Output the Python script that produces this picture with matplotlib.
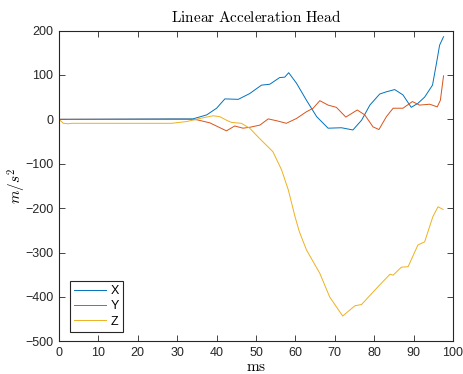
import matplotlib
matplotlib.use("Agg")
import matplotlib.pyplot as plt

plt.rcParams['font.family'] = ['Liberation Sans', 'DejaVu Sans']
plt.rcParams['mathtext.fontset'] = 'cm'

# values (ms, m/s^2)
t_x = [0, 29, 34, 37.5, 40, 42.1, 45.5, 48.4, 51.4, 53.5, 56, 57.3, 58.3, 60.3,
       62.8, 65.4, 68.3, 71.7, 74.6, 76.8, 78.9, 81.4, 83.1, 85.2, 87.3, 89.4,
       91.1, 92.8, 94.8, 95.8, 96.6, 97.6]
acc_x = [0, 1, 1, 10, 25, 46, 45, 58, 77, 79, 94, 95, 105, 81,
         43, 6, -20, -19, -24, -2, 32, 57, 62, 67, 55, 27,
         36, 50, 77, 126, 167, 186]

t_y = [0, 33, 35, 38.3, 40.4, 42.5, 44.6, 46.7, 48.4, 51, 53.1, 55.6, 57.7,
       60.3, 62.8, 64.5, 66.2, 68.3, 70.4, 72.8, 75.7, 77.6, 79.7, 81.2, 83.1,
       84.8, 87.3, 89.7, 91.5, 94.1, 96, 96.8, 97.6]
acc_y = [0, 0, -1, -8, -17, -26, -15, -20, -18, -13, 1, -4, -9,
         2, 17, 25, 42, 32, 27, 5, 21, 10, -17, -23, 6,
         25, 25, 40, 32, 34, 28, 43, 98]

t_z = [0, 1.1, 2.4, 3.2, 28.6, 32.4, 35.8, 39.1, 40.8, 42.5, 43.8, 46.3, 48.4,
       51, 54.3, 56.5, 58.2, 59.9, 61, 62.8, 66.2, 68.7, 72, 75.1, 76.8, 81.4,
       84, 84.8, 86.9, 88.6, 91.1, 92.8, 94.9, 96.2, 97.5]
acc_z = [0, -9, -10, -9, -9, -5, 2, 8, 6, -2, -7, -9, -20,
         -44, -73, -114, -159, -219, -253, -294, -347, -400, -443, -420, -417, -373,
         -349, -351, -333, -332, -283, -276, -219, -197, -203]

series = [("X", t_x, acc_x, "#0072BD"),
          ("Y", t_y, acc_y, "#D95319"),
          ("Z", t_z, acc_z, "#EDB120")]

fig = plt.figure(figsize=(4.63, 3.74), dpi=100)
ax = fig.add_axes([0.1274, 0.0874, 0.851, 0.831])

for name, t, a, c in series:
    ax.plot(t, a, color=c, lw=0.7, label=name)

ax.set_xlim(0, 100)
ax.set_ylim(-500, 200)
ax.set_xticks(range(0, 101, 10))
ax.set_yticks(range(-500, 201, 100))

grey = "#262626"
for s in ax.spines.values():
    s.set_color(grey)
    s.set_linewidth(0.8)
ax.tick_params(direction="in", top=True, right=True, length=4, width=0.6,
               colors=grey, labelsize=9, pad=4)

ax.set_title(r"$\mathrm{Linear\ Acceleration\ Head}$", fontsize=11, pad=6)
ax.set_xlabel(r"$\mathrm{ms}$", fontsize=11, labelpad=1)
ax.set_ylabel(r"$m/s^2$", fontsize=11, labelpad=-2)

leg = ax.legend(loc="lower left", bbox_to_anchor=(0.027, 0.03), fontsize=9,
                fancybox=False, framealpha=1, edgecolor=grey, handlelength=2.6,
                borderpad=0.35, labelspacing=0.25, handletextpad=0.3,
                borderaxespad=0)
leg.get_frame().set_linewidth(0.8)

fig.savefig("out.png", dpi=100)
